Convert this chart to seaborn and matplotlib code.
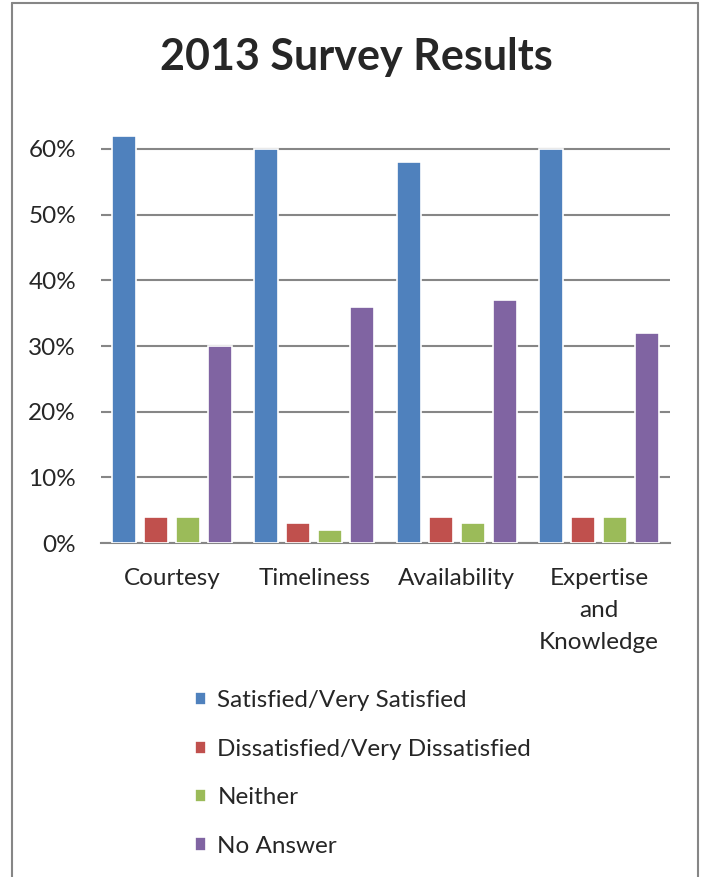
import numpy as np
import pandas as pd
import seaborn as sns
import matplotlib.pyplot as plt
from matplotlib.lines import Line2D
from matplotlib.ticker import PercentFormatter

categories = ["Courtesy", "Timeliness", "Availability", "Expertise\nand\nKnowledge"]
responses = ["Satisfied/Very Satisfied", "Dissatisfied/Very Dissatisfied", "Neither", "No Answer"]
satisfied = [0.62, 0.60, 0.58, 0.60]
dissatisfied = [0.04, 0.03, 0.04, 0.04]
neither = [0.04, 0.02, 0.03, 0.04]
no_answer = [0.30, 0.36, 0.37, 0.32]
colors = ["#4F81BD", "#C0504D", "#9BBB59", "#8064A2"]

df = pd.DataFrame({
    "category": np.repeat(categories, 4),
    "response": responses * len(categories),
    "value": np.ravel(np.column_stack([satisfied, dissatisfied, neither, no_answer])),
})

sns.set_style("white")
plt.rcParams["font.family"] = ["Lato", "DejaVu Sans"]

fig = plt.figure(figsize=(7.09, 8.77), dpi=100)
ax = fig.add_axes([0.1425, 0.3808, 0.8025, 0.5242])

sns.barplot(data=df, x="category", y="value", hue="response", hue_order=responses,
            palette=dict(zip(responses, colors)), saturation=1, width=0.9, gap=0.25,
            edgecolor="white", linewidth=1.2, ax=ax, zorder=3)

ax.set_ylim(0, 0.7)
ax.set_yticks(np.arange(0, 0.61, 0.1))
ax.yaxis.set_major_formatter(PercentFormatter(1.0, decimals=0))
ax.grid(axis="y", color="#868686", linewidth=1.5, zorder=0)
ax.set_axisbelow(True)
for s in ["top", "right", "left"]:
    ax.spines[s].set_visible(False)
ax.spines["bottom"].set_color("#868686")
ax.spines["bottom"].set_linewidth(1.5)
ax.tick_params(axis="y", length=0, pad=18, labelsize=17.5)
ax.tick_params(axis="x", length=0, pad=18, labelsize=17.5)
for t in ax.get_xticklabels():
    t.set_linespacing(1.66)
ax.set(xlabel="", ylabel="")

handles, labels = ax.get_legend_handles_labels()
ax.get_legend().remove()
fig.legend(handles, labels, loc="upper left", bbox_to_anchor=(0.262, 0.224),
           frameon=False, fontsize=17.5, labelspacing=1.13, handlelength=0.45,
           handleheight=0.45, handletextpad=0.45, borderaxespad=0)

fig.text(0.503, 0.935, "2013 Survey Results", ha="center", va="center",
         fontsize=31, fontweight="bold")

# outer chart border (cut off at the bottom)
fig.add_artist(Line2D([12/709, 12/709], [0, 1 - 3/877], color="#868686", lw=1.5))
fig.add_artist(Line2D([698/709, 698/709], [0, 1 - 3/877], color="#868686", lw=1.5))
fig.add_artist(Line2D([12/709, 698/709], [1 - 3/877, 1 - 3/877], color="#868686", lw=1.5))

fig.savefig("out.png", dpi=100)
